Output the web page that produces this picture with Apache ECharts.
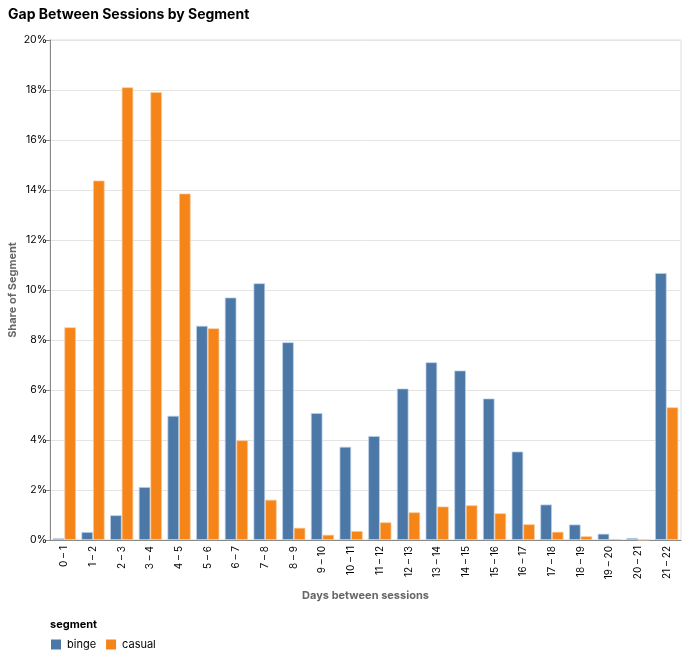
<!DOCTYPE html>
<html><head><meta charset="utf-8">
<script src="https://cdn.jsdelivr.net/npm/echarts@6/dist/echarts.min.js"></script>
<style>html,body{margin:0;padding:0;background:#fff}#c{width:686px;height:655px}</style>
</head><body><div id="c"></div>
<script>
const categories = ["0 – 1","1 – 2","2 – 3","3 – 4","4 – 5","5 – 6","6 – 7","7 – 8","8 – 9","9 – 10","10 – 11","11 – 12","12 – 13","13 – 14","14 – 15","15 – 16","16 – 17","17 – 18","18 – 19","19 – 20","20 – 21","21 – 22"];
const binge  = [0.07,0.32,0.99,2.12,4.97,8.57,9.70,10.27,7.91,5.08,3.73,4.16,6.06,7.11,6.78,5.66,3.54,1.42,0.62,0.25,0.08,10.68];
const casual = [8.51,14.38,18.11,17.92,13.86,8.47,3.99,1.61,0.49,0.21,0.36,0.71,1.11,1.34,1.39,1.07,0.63,0.33,0.15,0.04,0.01,5.31];
const yTicks = [0,2,4,6,8,10,12,14,16,18,20];
const seriesNames = ["binge","casual"];
const colors = ["#4c78a8","#f58518"];

const font = "Inter, 'Liberation Sans', sans-serif";
const chart = echarts.init(document.getElementById('c'), null, {renderer:'canvas'});
chart.setOption({
  animation:false,
  textStyle:{fontFamily:font},
  title:{text:"Gap Between Sessions by Segment", left:3, top:3,
    textStyle:{fontFamily:font, fontSize:14, fontWeight:'bold', color:'#000'}},
  grid:{left:50, right:5, top:40, bottom:115, show:true, borderColor:'#ddd', borderWidth:1,
    backgroundColor:'transparent', containLabel:false, outerBoundsMode:'none'},
  legend:{left:46, top:634, itemWidth:10, itemHeight:10, itemGap:10, icon:'rect',
    data:seriesNames,
    itemStyle:{borderWidth:0},
    textStyle:{fontFamily:font, fontSize:11, color:'#000', padding:[0,0,0,1]}},
  graphic:[{type:'text', left:50, top:619, style:{text:'segment', font:"bold 11px "+font, fill:'#000'}}],
  xAxis:{type:'category', data:categories,
    name:'Days between sessions', nameLocation:'middle', nameGap:50,
    nameTextStyle:{fontFamily:font, fontWeight:'bold', fontSize:11, color:'#666'},
    axisLine:{lineStyle:{color:'#888', width:1}},
    axisTick:{alignWithLabel:true, length:5, lineStyle:{color:'#888'}},
    axisLabel:{rotate:90, fontSize:10, color:'#000', margin:6, interval:0, fontFamily:font},
    splitLine:{show:false}},
  yAxis:{type:'value', min:0, max:20, interval:2,
    name:'Share of Segment', nameLocation:'middle', nameGap:32, nameRotate:90, nameMoveOverlap:false,
    nameTextStyle:{fontFamily:font, fontWeight:'bold', fontSize:11, color:'#666'},
    axisLine:{show:true, lineStyle:{color:'#888', width:1}},
    axisTick:{show:true, length:5, lineStyle:{color:'#888'}},
    axisLabel:{fontSize:10.5, color:'#000', margin:3, fontFamily:font,
      formatter:v=> yTicks.includes(v) ? v+'%' : ''},
    splitLine:{lineStyle:{color:'#e4e4e4', width:1}}},
  series:[
    {name:seriesNames[0], type:'bar', data:binge, barGap:'0%', barCategoryGap:'19%',
      itemStyle:{color:colors[0], borderColor:'rgba(190,210,235,0.9)', borderWidth:0.8}},
    {name:seriesNames[1], type:'bar', data:casual, barGap:'0%', barCategoryGap:'19%',
      itemStyle:{color:colors[1], borderColor:'rgba(250,205,160,0.9)', borderWidth:0.8}}
  ]
});
</script></body></html>
